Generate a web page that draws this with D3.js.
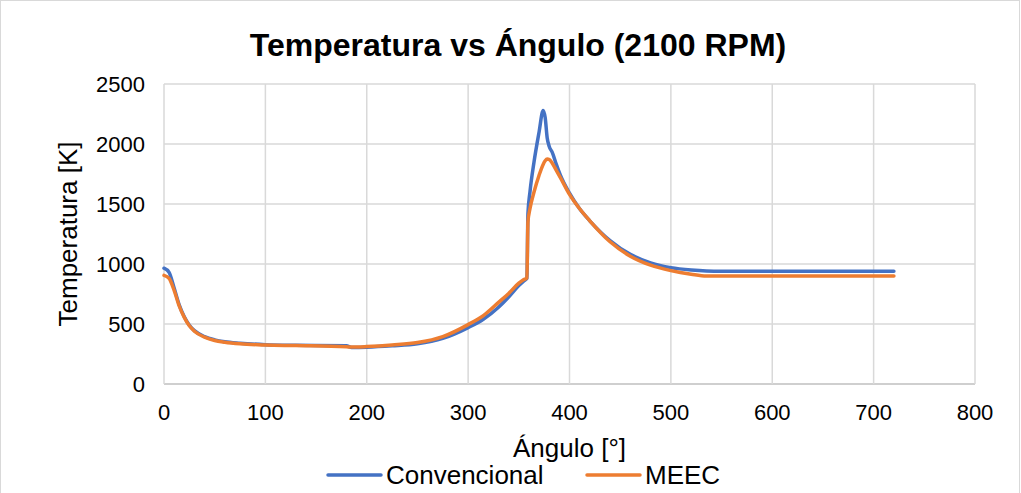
<!DOCTYPE html>
<html><head><meta charset="utf-8">
<script src="https://cdn.jsdelivr.net/npm/d3@7"></script>
<style>body{margin:0;background:#fff}svg{display:block;font-family:"Liberation Sans",Arial,sans-serif}</style>
</head><body><svg id="c" width="1021" height="493"></svg>
<script>
const angles = [0,5,10,15,20,25,30,40,50,60,75,100,130,180,185,200,225,250,275,300,315,330,340,350,355,358,359,361,365,370,374,376,378,380,383,387,391,400,410,420,440,460,480,500,520,535,550,600,650,720];
const convencional = [965,930,800,660,560,490,445,395,368,352,340,328,322,318,305,307,318,335,380,470,540,640,725,820,860,880,1420,1600,1850,2100,2280,2220,2050,1980,1930,1830,1740,1590,1460,1360,1195,1080,1010,970,950,942,940,940,940,940];
const meec = [905,880,780,650,555,485,440,390,362,348,335,325,320,310,308,312,325,345,395,495,570,680,755,840,870,885,1350,1460,1600,1740,1830,1860,1875,1870,1840,1780,1720,1580,1460,1360,1185,1065,990,945,915,900,900,900,900,900];
const xTicks = [0,100,200,300,400,500,600,700,800];
const yTicks = [0,500,1000,1500,2000,2500];
const seriesNames = ["Convencional","MEEC"];
const colors = ["#4472C4","#ED7D31"];

const svg = d3.select("#c");
svg.append("rect").attr("x",0.5).attr("y",0.5).attr("width",1019).attr("height",500).attr("fill","#fff").attr("stroke","#d9d9d9");
const x = d3.scaleLinear().domain([0,800]).range([164,975]);
const y = d3.scaleLinear().domain([0,2500]).range([384,84]);

const g = svg.append("g");
g.selectAll(".hg").data(yTicks).join("line").attr("x1",164).attr("x2",975)
 .attr("y1",d=>y(d)).attr("y2",d=>y(d)).attr("stroke",d=>d===0?"#bfbfbf":"#d9d9d9").attr("stroke-width",1.5);
g.selectAll(".vg").data(xTicks).join("line").attr("y1",84).attr("y2",384)
 .attr("x1",d=>x(d)).attr("x2",d=>x(d)).attr("stroke","#d9d9d9").attr("stroke-width",1.5);

g.selectAll(".yt").data(yTicks).join("text").attr("x",145).attr("y",d=>y(d)+8)
 .attr("text-anchor","end").attr("font-size",22).attr("fill","#000").text(d=>d);
g.selectAll(".xt").data(xTicks).join("text").attr("x",d=>x(d)).attr("y",420)
 .attr("text-anchor","middle").attr("font-size",22).attr("fill","#000").text(d=>d);

svg.append("text").attr("x",518).attr("y",56).attr("text-anchor","middle").attr("font-size",32).attr("font-weight","bold").text("Temperatura vs Ángulo (2100 RPM)");
svg.append("text").attr("x",569.5).attr("y",457).attr("text-anchor","middle").attr("font-size",26).text("Ángulo [°]");
svg.append("text").attr("transform","translate(77,234) rotate(-90)").attr("text-anchor","middle").attr("font-size",26).text("Temperatura [K]");

const line = d3.line().x(d=>x(d[0])).y(d=>y(d[1])).curve(d3.curveMonotoneX);
[convencional, meec].forEach((s,i)=>{
  svg.append("path").datum(angles.map((a,j)=>[a,s[j]])).attr("d",line)
   .attr("fill","none").attr("stroke",colors[i]).attr("stroke-width",3.5).attr("stroke-linejoin","round").attr("stroke-linecap","round");
});

const lg = svg.append("g");
const lx = [328,587];
seriesNames.forEach((n,i)=>{
  lg.append("line").attr("x1",lx[i]).attr("x2",lx[i]+53).attr("y1",475).attr("y2",475).attr("stroke",colors[i]).attr("stroke-width",3.5).attr("stroke-linecap","round");
  lg.append("text").attr("x",lx[i]+58).attr("y",484).attr("font-size",26).text(n);
});
</script></body></html>
